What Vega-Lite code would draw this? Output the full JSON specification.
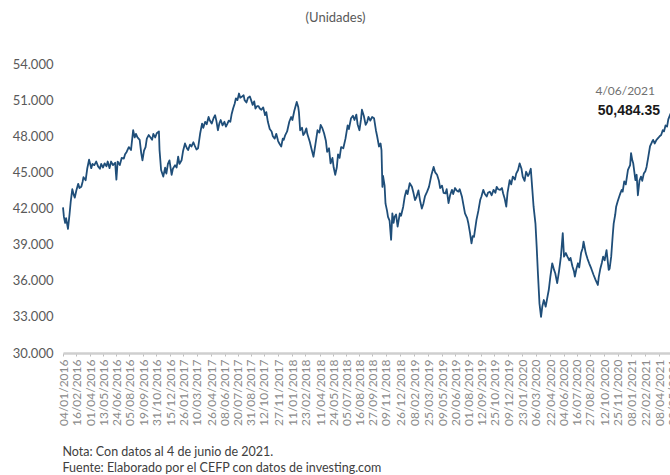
{
  "$schema": "https://vega.github.io/schema/vega-lite/v6.json",
  "autosize": "none",
  "width": 607,
  "height": 289,
  "padding": {"left": 63, "top": 64, "right": 0, "bottom": 122},
  "background": "white",
  "config": {"view": {"stroke": null}, "font": "Lato"},
  "title": {"text": "(Unidades)", "fontSize": 13, "fontWeight": "normal", "color": "#595959", "font": "Lato", "anchor": "middle", "dx": -31, "offset": 33},
  "datasets": {
    "ipc": [
      {"fecha":"2016-01-04","valor":42100},{"fecha":"2016-01-07","valor":41300},{"fecha":"2016-01-11","valor":40800},{"fecha":"2016-01-14","valor":41200},{"fecha":"2016-01-20","valor":40300},{"fecha":"2016-01-25","valor":41500},{"fecha":"2016-01-29","valor":42600},{"fecha":"2016-02-03","valor":43600},{"fecha":"2016-02-08","valor":43100},{"fecha":"2016-02-11","valor":42900},{"fecha":"2016-02-16","valor":43500},{"fecha":"2016-02-22","valor":44050},{"fecha":"2016-02-26","valor":43700},{"fecha":"2016-03-03","valor":43800},{"fecha":"2016-03-07","valor":44200},{"fecha":"2016-03-10","valor":44600},{"fecha":"2016-03-17","valor":44350},{"fecha":"2016-03-22","valor":45300},{"fecha":"2016-03-28","valor":46050},{"fecha":"2016-04-04","valor":45350},{"fecha":"2016-04-08","valor":45700},{"fecha":"2016-04-14","valor":45600},{"fecha":"2016-04-20","valor":45900},{"fecha":"2016-04-26","valor":45500},{"fecha":"2016-05-02","valor":45300},{"fecha":"2016-05-06","valor":45700},{"fecha":"2016-05-12","valor":45400},{"fecha":"2016-05-17","valor":45750},{"fecha":"2016-05-23","valor":45500},{"fecha":"2016-05-27","valor":45900},{"fecha":"2016-06-02","valor":45350},{"fecha":"2016-06-07","valor":45900},{"fecha":"2016-06-13","valor":45600},{"fecha":"2016-06-20","valor":45800},{"fecha":"2016-06-24","valor":44400},{"fecha":"2016-06-28","valor":45900},{"fecha":"2016-07-05","valor":45600},{"fecha":"2016-07-11","valor":46200},{"fecha":"2016-07-18","valor":46150},{"fecha":"2016-07-22","valor":46500},{"fecha":"2016-07-27","valor":46700},{"fecha":"2016-08-03","valor":47100},{"fecha":"2016-08-10","valor":46850},{"fecha":"2016-08-17","valor":48500},{"fecha":"2016-08-22","valor":47900},{"fecha":"2016-08-26","valor":48200},{"fecha":"2016-08-31","valor":47900},{"fecha":"2016-09-07","valor":47700},{"fecha":"2016-09-12","valor":46600},{"fecha":"2016-09-16","valor":46000},{"fecha":"2016-09-21","valor":46800},{"fecha":"2016-09-26","valor":47100},{"fecha":"2016-09-30","valor":47800},{"fecha":"2016-10-06","valor":48100},{"fecha":"2016-10-12","valor":47900},{"fecha":"2016-10-17","valor":47700},{"fecha":"2016-10-21","valor":48200},{"fecha":"2016-10-27","valor":47900},{"fecha":"2016-11-01","valor":48250},{"fecha":"2016-11-08","valor":48400},{"fecha":"2016-11-10","valor":46850},{"fecha":"2016-11-15","valor":45200},{"fecha":"2016-11-22","valor":44650},{"fecha":"2016-11-28","valor":45400},{"fecha":"2016-12-02","valor":44900},{"fecha":"2016-12-07","valor":45700},{"fecha":"2016-12-12","valor":46000},{"fecha":"2016-12-19","valor":44800},{"fecha":"2016-12-23","valor":45300},{"fecha":"2016-12-30","valor":45600},{"fecha":"2017-01-04","valor":45400},{"fecha":"2017-01-09","valor":46300},{"fecha":"2017-01-13","valor":45700},{"fecha":"2017-01-20","valor":46000},{"fecha":"2017-01-25","valor":46800},{"fecha":"2017-01-31","valor":47400},{"fecha":"2017-02-06","valor":47000},{"fecha":"2017-02-10","valor":46850},{"fecha":"2017-02-16","valor":47300},{"fecha":"2017-02-21","valor":47150},{"fecha":"2017-02-27","valor":47500},{"fecha":"2017-03-03","valor":47250},{"fecha":"2017-03-09","valor":46900},{"fecha":"2017-03-14","valor":47000},{"fecha":"2017-03-21","valor":48250},{"fecha":"2017-03-27","valor":49050},{"fecha":"2017-03-31","valor":48700},{"fecha":"2017-04-06","valor":49200},{"fecha":"2017-04-11","valor":49000},{"fecha":"2017-04-17","valor":49600},{"fecha":"2017-04-21","valor":49300},{"fecha":"2017-04-27","valor":49050},{"fecha":"2017-05-03","valor":49500},{"fecha":"2017-05-08","valor":49750},{"fecha":"2017-05-12","valor":49300},{"fecha":"2017-05-17","valor":48500},{"fecha":"2017-05-22","valor":49100},{"fecha":"2017-05-26","valor":49350},{"fecha":"2017-06-01","valor":48900},{"fecha":"2017-06-07","valor":49200},{"fecha":"2017-06-12","valor":48800},{"fecha":"2017-06-16","valor":49000},{"fecha":"2017-06-21","valor":49300},{"fecha":"2017-06-26","valor":49200},{"fecha":"2017-06-30","valor":49800},{"fecha":"2017-07-05","valor":50300},{"fecha":"2017-07-10","valor":50700},{"fecha":"2017-07-14","valor":51150},{"fecha":"2017-07-19","valor":51000},{"fecha":"2017-07-24","valor":51550},{"fecha":"2017-07-28","valor":51200},{"fecha":"2017-08-03","valor":51300},{"fecha":"2017-08-08","valor":51400},{"fecha":"2017-08-11","valor":51000},{"fecha":"2017-08-17","valor":50800},{"fecha":"2017-08-22","valor":51200},{"fecha":"2017-08-28","valor":51300},{"fecha":"2017-09-01","valor":51000},{"fecha":"2017-09-06","valor":50600},{"fecha":"2017-09-11","valor":50900},{"fecha":"2017-09-15","valor":50300},{"fecha":"2017-09-20","valor":50500},{"fecha":"2017-09-25","valor":50500},{"fecha":"2017-09-29","valor":50300},{"fecha":"2017-10-04","valor":50200},{"fecha":"2017-10-10","valor":50400},{"fecha":"2017-10-16","valor":49750},{"fecha":"2017-10-20","valor":50000},{"fecha":"2017-10-25","valor":49200},{"fecha":"2017-10-31","valor":48600},{"fecha":"2017-11-06","valor":48400},{"fecha":"2017-11-10","valor":48000},{"fecha":"2017-11-16","valor":47800},{"fecha":"2017-11-21","valor":48200},{"fecha":"2017-11-27","valor":47600},{"fecha":"2017-12-01","valor":47400},{"fecha":"2017-12-07","valor":47150},{"fecha":"2017-12-12","valor":47800},{"fecha":"2017-12-15","valor":47700},{"fecha":"2017-12-20","valor":48100},{"fecha":"2017-12-26","valor":48400},{"fecha":"2018-01-02","valor":49200},{"fecha":"2018-01-08","valor":49600},{"fecha":"2018-01-12","valor":49350},{"fecha":"2018-01-18","valor":50100},{"fecha":"2018-01-26","valor":50850},{"fecha":"2018-01-31","valor":50400},{"fecha":"2018-02-02","valor":50000},{"fecha":"2018-02-06","valor":48500},{"fecha":"2018-02-12","valor":48700},{"fecha":"2018-02-16","valor":48100},{"fecha":"2018-02-21","valor":48300},{"fecha":"2018-02-26","valor":48650},{"fecha":"2018-03-01","valor":48200},{"fecha":"2018-03-06","valor":47800},{"fecha":"2018-03-09","valor":47550},{"fecha":"2018-03-15","valor":46900},{"fecha":"2018-03-21","valor":46300},{"fecha":"2018-03-27","valor":47300},{"fecha":"2018-04-03","valor":48500},{"fecha":"2018-04-09","valor":48300},{"fecha":"2018-04-13","valor":48950},{"fecha":"2018-04-18","valor":48700},{"fecha":"2018-04-24","valor":48250},{"fecha":"2018-04-30","valor":47600},{"fecha":"2018-05-04","valor":46700},{"fecha":"2018-05-10","valor":47000},{"fecha":"2018-05-15","valor":45750},{"fecha":"2018-05-21","valor":46200},{"fecha":"2018-05-25","valor":45400},{"fecha":"2018-05-30","valor":44800},{"fecha":"2018-06-04","valor":45400},{"fecha":"2018-06-08","valor":46500},{"fecha":"2018-06-13","valor":46200},{"fecha":"2018-06-18","valor":47100},{"fecha":"2018-06-25","valor":47000},{"fecha":"2018-07-02","valor":47800},{"fecha":"2018-07-09","valor":48900},{"fecha":"2018-07-13","valor":48600},{"fecha":"2018-07-20","valor":49500},{"fecha":"2018-07-26","valor":49700},{"fecha":"2018-07-31","valor":49350},{"fecha":"2018-08-06","valor":49800},{"fecha":"2018-08-10","valor":49000},{"fecha":"2018-08-16","valor":48500},{"fecha":"2018-08-21","valor":49400},{"fecha":"2018-08-24","valor":50200},{"fecha":"2018-08-30","valor":49700},{"fecha":"2018-09-05","valor":48950},{"fecha":"2018-09-10","valor":49200},{"fecha":"2018-09-14","valor":49600},{"fecha":"2018-09-20","valor":49300},{"fecha":"2018-09-26","valor":49600},{"fecha":"2018-10-02","valor":49500},{"fecha":"2018-10-08","valor":48500},{"fecha":"2018-10-12","valor":48000},{"fecha":"2018-10-18","valor":47150},{"fecha":"2018-10-23","valor":47400},{"fecha":"2018-10-26","valor":46850},{"fecha":"2018-10-29","valor":43800},{"fecha":"2018-10-31","valor":44700},{"fecha":"2018-11-05","valor":43900},{"fecha":"2018-11-08","valor":42400},{"fecha":"2018-11-13","valor":41800},{"fecha":"2018-11-16","valor":41300},{"fecha":"2018-11-21","valor":41000},{"fecha":"2018-11-26","valor":39400},{"fecha":"2018-11-30","valor":41600},{"fecha":"2018-12-04","valor":40800},{"fecha":"2018-12-07","valor":41300},{"fecha":"2018-12-12","valor":41500},{"fecha":"2018-12-17","valor":40500},{"fecha":"2018-12-24","valor":41600},{"fecha":"2018-12-28","valor":41400},{"fecha":"2019-01-04","valor":42150},{"fecha":"2019-01-09","valor":43000},{"fecha":"2019-01-14","valor":43500},{"fecha":"2019-01-18","valor":43200},{"fecha":"2019-01-25","valor":44100},{"fecha":"2019-02-01","valor":43800},{"fecha":"2019-02-06","valor":43300},{"fecha":"2019-02-11","valor":42700},{"fecha":"2019-02-15","valor":42900},{"fecha":"2019-02-22","valor":43500},{"fecha":"2019-02-27","valor":42700},{"fecha":"2019-03-05","valor":42000},{"fecha":"2019-03-10","valor":42400},{"fecha":"2019-03-15","valor":43000},{"fecha":"2019-03-22","valor":43400},{"fecha":"2019-03-28","valor":43800},{"fecha":"2019-04-05","valor":44800},{"fecha":"2019-04-12","valor":45450},{"fecha":"2019-04-17","valor":45000},{"fecha":"2019-04-23","valor":44800},{"fecha":"2019-04-29","valor":44300},{"fecha":"2019-05-03","valor":43700},{"fecha":"2019-05-09","valor":43900},{"fecha":"2019-05-14","valor":43300},{"fecha":"2019-05-20","valor":43250},{"fecha":"2019-05-24","valor":43600},{"fecha":"2019-05-30","valor":42450},{"fecha":"2019-06-04","valor":43100},{"fecha":"2019-06-10","valor":43550},{"fecha":"2019-06-14","valor":43200},{"fecha":"2019-06-20","valor":43700},{"fecha":"2019-06-25","valor":43500},{"fecha":"2019-07-01","valor":43400},{"fecha":"2019-07-05","valor":43600},{"fecha":"2019-07-12","valor":43000},{"fecha":"2019-07-17","valor":42300},{"fecha":"2019-07-22","valor":41600},{"fecha":"2019-07-29","valor":41200},{"fecha":"2019-08-02","valor":40750},{"fecha":"2019-08-07","valor":40000},{"fecha":"2019-08-12","valor":39100},{"fecha":"2019-08-16","valor":39700},{"fecha":"2019-08-20","valor":39650},{"fecha":"2019-08-28","valor":41050},{"fecha":"2019-09-03","valor":41800},{"fecha":"2019-09-09","valor":42700},{"fecha":"2019-09-13","valor":43000},{"fecha":"2019-09-19","valor":43550},{"fecha":"2019-09-24","valor":43200},{"fecha":"2019-09-30","valor":43000},{"fecha":"2019-10-04","valor":43300},{"fecha":"2019-10-10","valor":43400},{"fecha":"2019-10-16","valor":43100},{"fecha":"2019-10-22","valor":43550},{"fecha":"2019-10-28","valor":43300},{"fecha":"2019-11-01","valor":43800},{"fecha":"2019-11-06","valor":43600},{"fecha":"2019-11-12","valor":43550},{"fecha":"2019-11-18","valor":43700},{"fecha":"2019-11-22","valor":43250},{"fecha":"2019-11-27","valor":42800},{"fecha":"2019-12-02","valor":42150},{"fecha":"2019-12-06","valor":43300},{"fecha":"2019-12-13","valor":44350},{"fecha":"2019-12-18","valor":44000},{"fecha":"2019-12-23","valor":44650},{"fecha":"2019-12-30","valor":44400},{"fecha":"2020-01-03","valor":44900},{"fecha":"2020-01-09","valor":45200},{"fecha":"2020-01-14","valor":45750},{"fecha":"2020-01-20","valor":45300},{"fecha":"2020-01-24","valor":44650},{"fecha":"2020-01-30","valor":44300},{"fecha":"2020-02-04","valor":45050},{"fecha":"2020-02-10","valor":44700},{"fecha":"2020-02-14","valor":44900},{"fecha":"2020-02-19","valor":45300},{"fecha":"2020-02-24","valor":43550},{"fecha":"2020-02-28","valor":42150},{"fecha":"2020-03-05","valor":40750},{"fecha":"2020-03-09","valor":38800},{"fecha":"2020-03-13","valor":36600},{"fecha":"2020-03-18","valor":34100},{"fecha":"2020-03-23","valor":33000},{"fecha":"2020-03-27","valor":33850},{"fecha":"2020-04-01","valor":34400},{"fecha":"2020-04-07","valor":33850},{"fecha":"2020-04-13","valor":34700},{"fecha":"2020-04-17","valor":35250},{"fecha":"2020-04-22","valor":36350},{"fecha":"2020-04-28","valor":37450},{"fecha":"2020-05-04","valor":36900},{"fecha":"2020-05-08","valor":36600},{"fecha":"2020-05-14","valor":35800},{"fecha":"2020-05-20","valor":36800},{"fecha":"2020-05-26","valor":38000},{"fecha":"2020-06-01","valor":39950},{"fecha":"2020-06-05","valor":38000},{"fecha":"2020-06-11","valor":38300},{"fecha":"2020-06-16","valor":38000},{"fecha":"2020-06-22","valor":37700},{"fecha":"2020-06-26","valor":37900},{"fecha":"2020-07-02","valor":37200},{"fecha":"2020-07-07","valor":36800},{"fecha":"2020-07-10","valor":36350},{"fecha":"2020-07-15","valor":37000},{"fecha":"2020-07-20","valor":37450},{"fecha":"2020-07-24","valor":37100},{"fecha":"2020-07-30","valor":38300},{"fecha":"2020-08-04","valor":38700},{"fecha":"2020-08-07","valor":39250},{"fecha":"2020-08-11","valor":38700},{"fecha":"2020-08-14","valor":38300},{"fecha":"2020-08-20","valor":37800},{"fecha":"2020-08-25","valor":37450},{"fecha":"2020-09-01","valor":37000},{"fecha":"2020-09-08","valor":36500},{"fecha":"2020-09-15","valor":36050},{"fecha":"2020-09-22","valor":35650},{"fecha":"2020-09-25","valor":36300},{"fecha":"2020-09-30","valor":37000},{"fecha":"2020-10-05","valor":37500},{"fecha":"2020-10-09","valor":38000},{"fecha":"2020-10-14","valor":37700},{"fecha":"2020-10-20","valor":38550},{"fecha":"2020-10-27","valor":36900},{"fecha":"2020-10-30","valor":37000},{"fecha":"2020-11-04","valor":38000},{"fecha":"2020-11-09","valor":39800},{"fecha":"2020-11-12","valor":40750},{"fecha":"2020-11-17","valor":41500},{"fecha":"2020-11-20","valor":42150},{"fecha":"2020-11-25","valor":42600},{"fecha":"2020-11-30","valor":43000},{"fecha":"2020-12-04","valor":43300},{"fecha":"2020-12-08","valor":43550},{"fecha":"2020-12-11","valor":43400},{"fecha":"2020-12-16","valor":44250},{"fecha":"2020-12-21","valor":44000},{"fecha":"2020-12-28","valor":45200},{"fecha":"2021-01-04","valor":45600},{"fecha":"2021-01-07","valor":46600},{"fecha":"2021-01-11","valor":46000},{"fecha":"2021-01-14","valor":45750},{"fecha":"2021-01-21","valor":44350},{"fecha":"2021-01-25","valor":44800},{"fecha":"2021-01-29","valor":43100},{"fecha":"2021-02-03","valor":44300},{"fecha":"2021-02-08","valor":44650},{"fecha":"2021-02-12","valor":44300},{"fecha":"2021-02-17","valor":44900},{"fecha":"2021-02-22","valor":45100},{"fecha":"2021-02-26","valor":45450},{"fecha":"2021-03-03","valor":46200},{"fecha":"2021-03-09","valor":47150},{"fecha":"2021-03-15","valor":47500},{"fecha":"2021-03-19","valor":47700},{"fecha":"2021-03-24","valor":47400},{"fecha":"2021-03-30","valor":47700},{"fecha":"2021-04-06","valor":47900},{"fecha":"2021-04-09","valor":48000},{"fecha":"2021-04-14","valor":48100},{"fecha":"2021-04-19","valor":48500},{"fecha":"2021-04-23","valor":48400},{"fecha":"2021-04-28","valor":48900},{"fecha":"2021-05-03","valor":48800},{"fecha":"2021-05-07","valor":49400},{"fecha":"2021-05-13","valor":49800},{"fecha":"2021-05-18","valor":50100},{"fecha":"2021-05-24","valor":50200},{"fecha":"2021-05-28","valor":50500},{"fecha":"2021-06-04","valor":50484.35}
    ],
    "ultimo": [{"fecha":"2021-06-04","valor":50484.35,"etiqueta":"50,484.35","dia":"4/06/2021"}]
  },
  "encoding": {
    "x": {
      "field": "fecha", "type": "temporal",
      "scale": {"type": "utc", "domain": [{"year":2016,"month":1,"date":4,"utc":true},{"year":2021,"month":6,"date":4,"utc":true}], "range": [0, 614]},
      "axis": {
        "values": [
          {"year":2016,"month":1,"date":4,"utc":true},{"year":2016,"month":2,"date":16,"utc":true},{"year":2016,"month":4,"date":1,"utc":true},{"year":2016,"month":5,"date":13,"utc":true},{"year":2016,"month":6,"date":24,"utc":true},{"year":2016,"month":8,"date":5,"utc":true},{"year":2016,"month":9,"date":19,"utc":true},{"year":2016,"month":10,"date":31,"utc":true},{"year":2016,"month":12,"date":15,"utc":true},
          {"year":2017,"month":1,"date":26,"utc":true},{"year":2017,"month":3,"date":10,"utc":true},{"year":2017,"month":4,"date":26,"utc":true},{"year":2017,"month":6,"date":8,"utc":true},{"year":2017,"month":7,"date":20,"utc":true},{"year":2017,"month":8,"date":31,"utc":true},{"year":2017,"month":10,"date":12,"utc":true},{"year":2017,"month":11,"date":27,"utc":true},
          {"year":2018,"month":1,"date":11,"utc":true},{"year":2018,"month":2,"date":23,"utc":true},{"year":2018,"month":4,"date":11,"utc":true},{"year":2018,"month":5,"date":24,"utc":true},{"year":2018,"month":7,"date":5,"utc":true},{"year":2018,"month":8,"date":16,"utc":true},{"year":2018,"month":9,"date":27,"utc":true},{"year":2018,"month":11,"date":9,"utc":true},{"year":2018,"month":12,"date":26,"utc":true},
          {"year":2019,"month":2,"date":8,"utc":true},{"year":2019,"month":3,"date":25,"utc":true},{"year":2019,"month":5,"date":9,"utc":true},{"year":2019,"month":6,"date":20,"utc":true},{"year":2019,"month":8,"date":1,"utc":true},{"year":2019,"month":9,"date":12,"utc":true},{"year":2019,"month":10,"date":25,"utc":true},{"year":2019,"month":12,"date":9,"utc":true},
          {"year":2020,"month":1,"date":23,"utc":true},{"year":2020,"month":3,"date":6,"utc":true},{"year":2020,"month":4,"date":22,"utc":true},{"year":2020,"month":6,"date":4,"utc":true},{"year":2020,"month":7,"date":16,"utc":true},{"year":2020,"month":8,"date":27,"utc":true},{"year":2020,"month":10,"date":12,"utc":true},{"year":2020,"month":11,"date":25,"utc":true},
          {"year":2021,"month":1,"date":8,"utc":true},{"year":2021,"month":2,"date":22,"utc":true},{"year":2021,"month":4,"date":8,"utc":true},{"year":2021,"month":5,"date":20,"utc":true}
        ],
        "format": "%d/%m/%Y",
        "labelAngle": -90,
        "labelFont": "Lato",
        "labelFontSize": 12,
        "labelColor": "#8a8a8a",
        "labelOverlap": false,
        "labelBound": false,
        "labelFlush": false,
        "labelPadding": 3,
        "domainColor": "#cfcfcf",
        "domainWidth": 2.5,
        "tickColor": "#bdbdbd",
        "tickSize": 3,
        "grid": false,
        "title": ["Nota: Con datos al 4 de junio de 2021.", "Fuente: Elaborado por el CEFP con datos de investing.com"],
        "titleFont": "Lato",
        "titleFontSize": 12.5,
        "titleFontWeight": "normal",
        "titleColor": "#404040",
        "titleAlign": "left",
        "titleBaseline": "top",
        "titleAngle": 0,
        "titleX": -1,
        "titleY": 92,
        "titleLineHeight": 16
      }
    },
    "y": {
      "field": "valor", "type": "quantitative",
      "scale": {"domain": [30000, 54000], "nice": false, "zero": false},
      "axis": {
        "values": [30000, 33000, 36000, 39000, 42000, 45000, 48000, 51000, 54000],
        "labelExpr": "replace(format(datum.value, ','), ',', '.')",
        "labelFont": "Lato",
        "labelFontSize": 13,
        "labelColor": "#595959",
        "labelPadding": 10,
        "domain": false,
        "ticks": false,
        "grid": false,
        "title": null
      }
    }
  },
  "layer": [
    {
      "data": {"name": "ipc"},
      "mark": {"type": "line", "color": "#1f4e79", "strokeWidth": 1.8, "strokeJoin": "round"}
    },
    {
      "data": {"name": "ultimo"},
      "mark": {"type": "text", "align": "right", "baseline": "middle", "dx": -17, "dy": 5, "font": "Liberation Sans", "fontSize": 14, "fontWeight": "bold", "color": "#1a1a1a"},
      "encoding": {"text": {"field": "etiqueta"}}
    },
    {
      "data": {"name": "ultimo"},
      "mark": {"type": "text", "align": "right", "baseline": "middle", "dx": -22, "dy": -15, "font": "Lato", "fontSize": 12, "color": "#707070"},
      "encoding": {"text": {"field": "dia"}}
    }
  ]
}
